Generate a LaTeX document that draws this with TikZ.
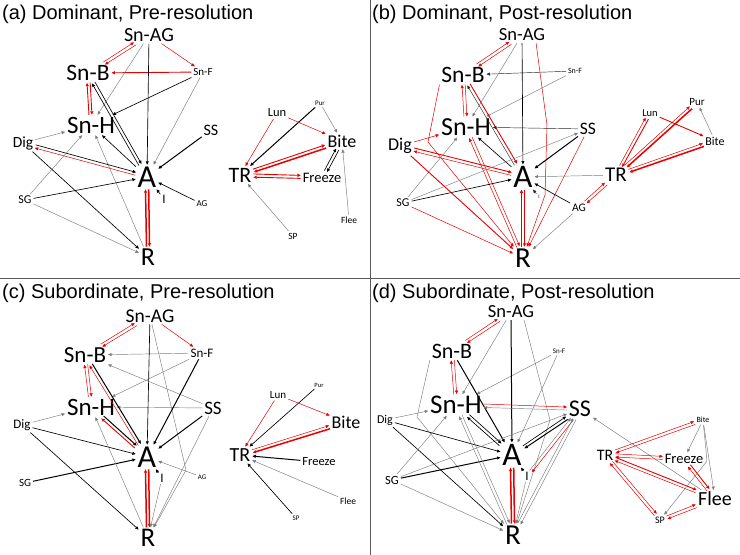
\documentclass[tikz,border=0pt]{standalone}
\usepackage{fontspec}
\setmainfont{Carlito}
\newfontfamily\ttlfont{Liberation Sans}
\usetikzlibrary{arrows.meta,calc}
\definecolor{myred}{RGB}{232,0,0}
\definecolor{myg}{RGB}{125,125,125}
\newcommand\fsz[1]{\fontsize{#1}{#1}\selectfont}
\tikzset{
  nd/.style={inner sep=1.8pt},
  tip/.style={-{Triangle[length=3.4pt,width=3pt]}},
  eg/.style={tip,draw=myg,line width=0.45pt},
  ekt/.style={tip,draw=black!85,line width=0.45pt},
  ek/.style={tip,draw=black,line width=0.65pt},
  eK/.style={tip,draw=black,line width=1.0pt},
  er/.style={tip,draw=myred,line width=0.5pt},
  erm/.style={tip,draw=myred,line width=0.9pt},
  eR/.style={tip,draw=myred,line width=1.5pt},
  pr/.style={to path={let \p1=($(\tikztotarget)-(\tikztostart)$), \n1={atan2(\y1,\x1)}, \n2={\n1+180} in ([shift={({\n1+90}:#1)}]\tikztostart.\n1) -- ([shift={({\n1+90}:#1)}]\tikztotarget.\n2)}},
  pr/.default=1.5pt,
  ttl/.style={anchor=base west,font=\ttlfont\fsz{20},inner sep=0pt},
  divider/.style={line width=0.8pt,draw=black!65},
}
\begin{document}
\begin{tikzpicture}[x=1pt,y=-1pt]
\useasboundingbox (0,0) rectangle (740,555);
\fill[white] (0,0) rectangle (740,555);
\draw[divider] (370,0) -- (370,555);
\draw[divider] (0,278) -- (740,278);
\node[ttl] (ta) at (2,19) {(a) Dominant, Pre-resolution};
\node[ttl] (tb) at (372,19) {(b) Dominant, Post-resolution};
\node[ttl] (tc) at (2,298) {(c) Subordinate, Pre-resolution};
\node[ttl] (td) at (372,298) {(d) Subordinate, Post-resolution};
% ---------------- (a)
\node[nd,font=\fsz{20}] (aSnAG) at (149,35) {Sn-AG};
\node[nd,font=\fsz{23.5}] (aSnB) at (88,73) {Sn-B};
\node[nd,font=\fsz{11}] (aSnF) at (203,72) {Sn-F};
\node[nd,font=\fsz{25}] (aSnH) at (91,125) {Sn-H};
\node[nd,font=\fsz{16}] (aSS) at (211,130) {SS};
\node[nd,font=\fsz{15.5}] (aDig) at (23,143) {Dig};
\node[nd,font=\fsz{32}] (aA) at (147,177) {A};
\node[nd,font=\fsz{13}] (aI) at (164,199) {I};
\node[nd,font=\fsz{9}] (aAG) at (202,204) {AG};
\node[nd,font=\fsz{12}] (aSG) at (25,200) {SG};
\node[nd,font=\fsz{26}] (aR) at (148,257) {R};
\node[nd,font=\fsz{12.5}] (aLun) at (277,113) {Lun};
\node[nd,font=\fsz{7}] (aPur) at (320,103) {Pur};
\node[nd,font=\fsz{18}] (aBite) at (342,141) {Bite};
\node[nd,font=\fsz{22}] (aTR) at (240,175) {TR};
\node[nd,font=\fsz{14.5}] (aFreeze) at (322,178) {Freeze};
\node[nd,font=\fsz{9.5}] (aFlee) at (349,220) {Flee};
\node[nd,font=\fsz{9.5}] (aSP) at (293,236) {SP};
\draw[er] (aSnAG) to[pr] (aSnB); \draw[er] (aSnB) to[pr] (aSnAG);
\draw[er] (aSnAG) -- (aSnF);
\draw[erm] (aSnF) -- (aSnB);
\draw[erm] (aSnB) to[pr] (aSnH); \draw[erm] (aSnH) to[pr] (aSnB);
\draw[ek] (aSnF) -- (aSnH);
\draw[eg] (aSnAG) -- (aSnH);
\draw[ek] (aSnAG) -- (aA);
\draw[eg] (aSnF) -- (aA);
\draw[ek] (aSnB) to[pr] (aA); \draw[ek] (aA) to[pr] (aSnB);
\draw[ek] (aA) -- (aSnH);
\draw[eg] (aR) -- (aSnH);
\draw[eg] (aDig) -- (aSnH);
\draw[er] (aA) to[pr] (aDig); \draw[ek] (aDig) to[pr] (aA);
\draw[eK] (aSS) -- (aA);
\draw[eg] (aSG) -- (aSnH);
\draw[ek] (aSG) -- (aA);
\draw[eg] (aSG) -- (aR);
\draw[ek] (aDig) -- (aR);
\draw[eR] (aA) to[pr] (aR); \draw[eR] (aR) to[pr] (aA);
\draw[ek] (aI) -- (aA);
\draw[ek] (aAG) -- (aA);
\draw[er] (aLun) -- (aTR);
\draw[eK] (aPur) -- (aTR);
\draw[er] (aLun) -- (aBite);
\draw[eg] (aPur) -- (aBite);
\draw[erm] (aTR) to[pr] (aBite); \draw[eR] (aBite) to[pr] (aTR);
\draw[erm] (aTR) to[pr] (aFreeze); \draw[erm] (aFreeze) to[pr] (aTR);
\draw[ek] (aFreeze) to[pr] (aBite); \draw[ek] (aBite) to[pr] (aFreeze);
\draw[eg] (aFlee) -- (aBite);
\draw[eg] (aSP) -- (aTR);
% ---------------- (b)
\node[nd,font=\fsz{18.5}] (bSnAG) at (522,35) {Sn-AG};
\node[nd,font=\fsz{23.5}] (bSnB) at (463,75) {Sn-B};
\node[nd,font=\fsz{8}] (bSnF) at (575,71) {Sn-F};
\node[nd,font=\fsz{26}] (bSnH) at (466,127) {Sn-H};
\node[nd,font=\fsz{17.5}] (bSS) at (588,129) {SS};
\node[nd,font=\fsz{18}] (bDig) at (400,146) {Dig};
\node[nd,font=\fsz{33}] (bA) at (523,177) {A};
\node[nd,font=\fsz{5}] (bI) at (539,197) {I};
\node[nd,font=\fsz{11.5}] (bAG) at (579,208) {AG};
\node[nd,font=\fsz{12}] (bSG) at (403,203) {SG};
\node[nd,font=\fsz{29}] (bR) at (523,258) {R};
\node[nd,font=\fsz{21}] (bTR) at (616,175) {TR};
\node[nd,font=\fsz{10.5}] (bLun) at (650,113) {Lun};
\node[nd,font=\fsz{11}] (bPur) at (697,102) {Pur};
\node[nd,font=\fsz{12}] (bBite) at (715,141) {Bite};
\draw[er] (bSnAG) to[pr] (bSnB); \draw[er] (bSnB) to[pr] (bSnAG);
\draw[ekt] (bSnF) -- (bSnB);
\draw[eg] (bSnF) -- (bSnH);
\draw[eg] (bSnAG) -- (bSnH);
\draw[ek] (bSnAG) -- (bA);
\draw[er] ([xshift=-11pt]bSnAG.south east) -- (547,125) -- (545,195) -- (bR);
\draw[er] (bSnB.south west) -- (428,142) -- (bR);
\draw[er] (bSnB) to[pr] (bSnH); \draw[er] (bSnH) to[pr] (bSnB);
\draw[erm] (bSnB) to[pr] (bA); \draw[ekt] (bA) to[pr] (bSnB);
\draw[ekt] (bSS) -- (bSnH);
\draw[ek] (bA) -- (bSnH);
\draw[er] (bSnH) to[pr] (bR); \draw[er] (bR) to[pr] (bSnH);
\draw[er] (bDig) -- (bSnH);
\draw[er] (bA) to[pr] (bDig); \draw[erm] (bDig) to[pr] (bA);
\draw[eg] (bSG) -- (bSnH);
\draw[eg] (bSG) -- (bSS);
\draw[ek] (bSG) -- (bA);
\draw[er] (bSG) -- (bR);
\draw[erm] (bDig) -- (bR);
\draw[eK] (bSS) -- (bA);
\draw[er] (bSS) -- (bR);
\draw[eR] (bA) to[pr] (bR); \draw[eR] (bR) to[pr] (bA);
\draw[ekt] (bI) -- (bA);
\draw[ek] (bAG) -- (bA);
\draw[eg] (bAG) -- (bR);
\draw[eg] (bTR) -- (bA);
\draw[er] (bTR) to[pr] (bAG); \draw[er] (bAG) to[pr] (bTR);
\draw[er] (bTR) to[pr] (bLun); \draw[erm] (bLun) to[pr] (bTR);
\draw[er] (bTR) to[pr] (bPur); \draw[eR] (bPur) to[pr] (bTR);
\draw[erm] (bLun) -- (bBite);
\draw[eg] (bBite) -- (bPur);
\draw[er] (bTR) to[pr] (bBite); \draw[eR] (bBite) to[pr] (bTR);
% ---------------- (c)
\node[nd,font=\fsz{19.5}] (cSnAG) at (150,316) {Sn-AG};
\node[nd,font=\fsz{23}] (cSnB) at (85,355) {Sn-B};
\node[nd,font=\fsz{13}] (cSnF) at (202,353) {Sn-F};
\node[nd,font=\fsz{25}] (cSnH) at (91,407) {Sn-H};
\node[nd,font=\fsz{19}] (cSS) at (213,408) {SS};
\node[nd,font=\fsz{13}] (cDig) at (22,425) {Dig};
\node[nd,font=\fsz{32}] (cA) at (147,457) {A};
\node[nd,font=\fsz{13}] (cI) at (162,478) {I};
\node[nd,font=\fsz{7}] (cAG) at (202,477) {AG};
\node[nd,font=\fsz{11}] (cSG) at (25,483) {SG};
\node[nd,font=\fsz{27}] (cR) at (148,538) {R};
\node[nd,font=\fsz{6.5}] (cPur) at (319,385) {Pur};
\node[nd,font=\fsz{11}] (cLun) at (278,395) {Lun};
\node[nd,font=\fsz{18}] (cBite) at (346,422) {Bite};
\node[nd,font=\fsz{20}] (cTR) at (240,455) {TR};
\node[nd,font=\fsz{12.5}] (cFreeze) at (319,462) {Freeze};
\node[nd,font=\fsz{9.5}] (cFlee) at (348,501) {Flee};
\node[nd,font=\fsz{7}] (cSP) at (296,518) {SP};
\draw[er] (cSnAG) to[pr] (cSnB); \draw[er] (cSnB) to[pr] (cSnAG);
\draw[er] (cSnAG) -- (cSnF);
\draw[eg] (cSnF) -- (cSnB);
\draw[eg] (cSS) -- (cSnB);
\draw[er] (cSnB) to[pr] (cSnH); \draw[er] (cSnH) to[pr] (cSnB);
\draw[eg] (cSnF) -- (cSnH);
\draw[eg] (cSS) -- (cSnH);
\draw[ek] (cSnAG) -- (cA);
\draw[eg] (cSnAG) -- (186,470) -- (cR);
\draw[eK] (cSnF) -- (cA);
\draw[eK] (cSnB) to[pr] (cA); \draw[er] (cA) to[pr] (cSnB);
\draw[eK] (cSnH) to[pr] (cA); \draw[erm] (cA) to[pr] (cSnH);
\draw[eg] (cDig) -- (cSnH);
\draw[ek] (cDig) -- (cA);
\draw[ek] (cDig) -- (cR);
\draw[eK] (cSS) -- (cA);
\draw[eK] (cSG) -- (cA);
\draw[eg] (cR) -- (cSnH);
\draw[eR] (cA) to[pr] (cR); \draw[eR] (cR) to[pr] (cA);
\draw[ek] (cI) -- (cA);
\draw[eg] (cI) -- (cR);
\draw[eg] (cAG) -- (cA);
\draw[eg] (cSS) -- (cR);
\draw[er] (cLun) -- (cTR);
\draw[ek] (cPur) -- (cTR);
\draw[er] (cLun) -- (cBite);
\draw[er] (cTR) to[pr] (cBite); \draw[eR] (cBite) to[pr] (cTR);
\draw[eK] (cFreeze) -- (cTR);
\draw[eg] (cFlee) -- (cTR);
\draw[ek] (cSP) -- (cTR);
% ---------------- (d)
\node[nd,font=\fsz{18.5}] (dSnAG) at (511,312) {Sn-AG};
\node[nd,font=\fsz{22}] (dSnB) at (452,351) {Sn-B};
\node[nd,font=\fsz{7}] (dSnF) at (559,351) {Sn-F};
\node[nd,font=\fsz{27}] (dSnH) at (456,405) {Sn-H};
\node[nd,font=\fsz{24}] (dSS) at (580,409) {SS};
\node[nd,font=\fsz{12}] (dDig) at (385,420) {Dig};
\node[nd,font=\fsz{33}] (dA) at (512,455) {A};
\node[nd,font=\fsz{13}] (dI) at (527,476) {I};
\node[nd,font=\fsz{12.5}] (dSG) at (392,480) {SG};
\node[nd,font=\fsz{29}] (dR) at (513,535) {R};
\node[nd,font=\fsz{8}] (dBite) at (703,420) {Bite};
\node[nd,font=\fsz{16}] (dTR) at (605,455) {TR};
\node[nd,font=\fsz{14.5}] (dFreeze) at (684,459) {Freeze};
\node[nd,font=\fsz{20}] (dFlee) at (715,499) {Flee};
\node[nd,font=\fsz{10}] (dSP) at (660,520) {SP};
\draw[er] (dSnAG) to[pr] (dSnB); \draw[er] (dSnB) to[pr] (dSnAG);
\draw[er] (dSnB) to[pr] (dSnH); \draw[er] (dSnH) to[pr] (dSnB);
\draw[eg] (dSnAG) -- (dSnH);
\draw[eg] (dSnF) -- (dSnH);
\draw[eK] (dSnAG) -- (dA);
\draw[eg] ([xshift=-12pt]dSnAG.south east) -- (550,420) -- (dR);
\draw[eg] (dSnF) -- (dA);
\draw[eK] (dSnB) -- (dA);
\draw[eg] (dSnB.south west) -- (417,417) -- (dR);
\draw[eg] (dDig) -- (dSnH);
\draw[ek] (dDig) -- (dA);
\draw[ek] (dDig) -- (dR);
\draw[eg] (dSG) -- (dSnH);
\draw[eg] (dSG) -- (dSS);
\draw[eK] (dSG) -- (dA);
\draw[eg] (dSG) -- (dR);
\draw[er] (dSnH) to[pr] (dSS); \draw[eg] (dSS) to[pr] (dSnH);
\draw[eg] (dSnH) to[pr] (dR); \draw[eg] (dR) to[pr] (dSnH);
\draw[ek] (dSnH) to[pr] (dA); \draw[ek] (dA) to[pr] (dSnH);
\draw[eK] (dSS) to[pr] (dA); \draw[ek] (dA) to[pr] (dSS);
\draw[er] (dSS) to[pr] (dI); \draw[eg] (dI) to[pr] (dSS);
\draw[eg] (dSS) to[pr] (dR); \draw[eg] (dR) to[pr] (dSS);
\draw[eR] (dA) to[pr] (dR); \draw[eR] (dR) to[pr] (dA);
\draw[ek] (dI) -- (dA);
\draw[eg] (dI) -- (dR);
\draw[eg] (dFlee) -- (dSS);
\draw[er] (dBite) to[pr] (dTR); \draw[er] (dTR) to[pr] (dBite);
\draw[er] (dTR) to[pr] (dFreeze); \draw[er] (dFreeze) to[pr] (dTR);
\draw[erm] (dTR) to[pr] (dFlee); \draw[er] (dFlee) to[pr] (dTR);
\draw[er] (dTR) to[pr] (dSP); \draw[er] (dSP) to[pr] (dTR);
\draw[erm] (dFreeze) to[pr] (dFlee); \draw[er] (dFlee) to[pr] (dFreeze);
\draw[er] (dSP) to[pr] (dFlee); \draw[er] (dFlee) to[pr] (dSP);
\draw[eg] (dBite) -- (dFreeze);
\draw[eg] (dBite) -- (707,461) -- (dSP);
\draw[eg] (dBite) -- (dFlee);
\end{tikzpicture}
\end{document}
